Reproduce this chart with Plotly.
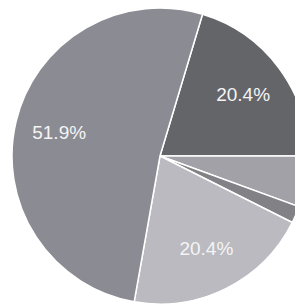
import plotly.graph_objects as go

# Slices in clockwise order, starting at the top-right boundary
labels = ["Dark", "Small A", "Small B", "Light", "Large"]
values = [11, 3, 1, 11, 28]
colors = ["#646569", "#a1a1a7", "#818186", "#babac0", "#8b8b93"]
show_label = [True, False, False, True, True]

templates = ["%{percent:.1%}" if s else "" for s in show_label]

dom = dict(x=[4 / 303, 300 / 303], y=[9 / 305, 1.0])

fig = go.Figure()
fig.add_trace(
    go.Pie(
        labels=labels,
        values=values,
        sort=False,
        direction="clockwise",
        rotation=16.7,
        marker=dict(colors=colors, line=dict(color="#ffffff", width=1.5)),
        textinfo="none",
        hoverinfo="skip",
        showlegend=False,
        domain=dom,
    )
)
# label layer (same slices, transparent ring) so labels sit further out
fig.add_trace(
    go.Pie(
        labels=labels,
        values=values,
        sort=False,
        direction="clockwise",
        rotation=16.7,
        hole=0.4,
        marker=dict(colors=["rgba(0,0,0,0)"] * len(values), line=dict(width=0)),
        texttemplate=templates,
        textposition="inside",
        insidetextorientation="horizontal",
        textfont=dict(family="Liberation Sans, Arial, sans-serif", size=19, color="#f4f4f4"),
        hoverinfo="skip",
        showlegend=False,
        domain=dom,
    )
)

fig.update_layout(
    width=303,
    height=305,
    margin=dict(l=0, r=0, t=0, b=0),
    paper_bgcolor="#ffffff",
    plot_bgcolor="#ffffff",
    showlegend=False,
)

fig.write_html("out.html")
